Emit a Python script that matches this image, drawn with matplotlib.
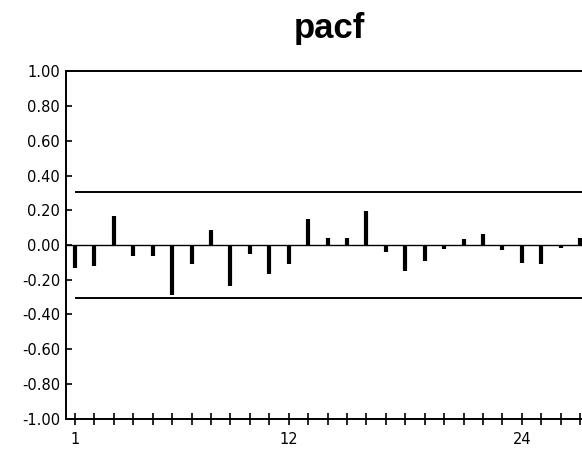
import numpy as np
import matplotlib
matplotlib.use('Agg')
import matplotlib.pyplot as plt

# -----------------------
# PACF values
# -----------------------
lags = np.arange(1, 28)
pacf = [-0.135, -0.122, 0.168, -0.061, -0.061, -0.291, -0.107, 0.088, -0.236,
        -0.050, -0.166, -0.107, 0.150, 0.038, 0.038, 0.196, -0.038, -0.149,
        -0.095, -0.023, 0.032, 0.065, -0.029, -0.101, -0.107, -0.015, 0.042]
conf = 0.305  # significance band
yticks = [-1.0, -0.8, -0.6, -0.4, -0.2, 0.0, 0.2, 0.4, 0.6, 0.8, 1.0]
xlabels = {1: '1', 12: '12', 24: '24'}

plt.rcParams['font.family'] = ['DejaVu Sans']

fig = plt.figure(figsize=(5.82, 4.49), dpi=100)
ax = fig.add_axes([0.1129, 0.0679, 0.8871, 0.7729])

# bars
ax.vlines(lags, 0, pacf, colors='black', linewidth=3)
ax.axhline(0, color='black', linewidth=1)
ax.hlines([conf, -conf], 1, 27.1, colors='black', linewidth=1.4)

ax.set_xlim(0.52, 27.1)
ax.set_ylim(-1, 1)

ax.set_yticks(yticks)
ax.set_yticklabels([f'{v:.2f}' for v in yticks], fontsize=10.5)
ax.set_xticks(lags)
ax.set_xticklabels([xlabels.get(k, '') for k in lags], fontsize=10.5)

ax.tick_params(axis='y', direction='in', length=4, width=1.2, pad=4)
ax.tick_params(axis='x', direction='inout', length=9, width=1.2, pad=5)

for side in ['left', 'bottom', 'top']:
    ax.spines[side].set_linewidth(1.4)
ax.spines['right'].set_visible(False)

fig.text(329 / 582, 411 / 449, 'pacf', fontsize=25, fontweight='bold',
         ha='center', va='baseline', family='Liberation Sans')

fig.savefig('out.png', dpi=100)
